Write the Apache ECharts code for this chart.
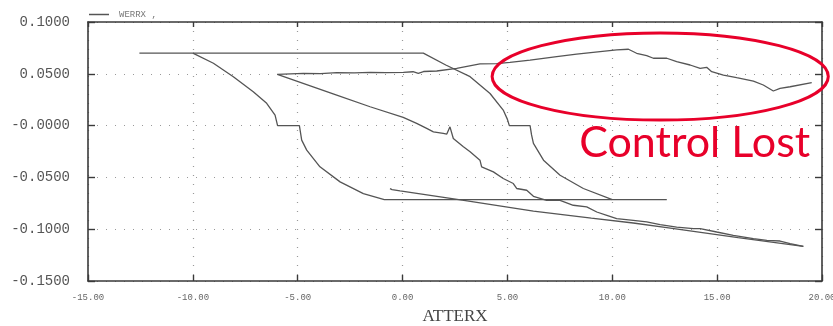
<!DOCTYPE html>
<html>
<head>
<meta charset="utf-8">
<script src="https://cdn.jsdelivr.net/npm/echarts@6/dist/echarts.min.js"></script>
<style>
  html, body { margin: 0; padding: 0; background: #fff; }
  #chart { width: 833px; height: 326px; }
</style>
</head>
<body>
<div id="chart"></div>
<script>
// Axis ticks
const xTickLabels = ['-15.00', '-10.00', '-5.00', '0.00', '5.00', '10.00', '15.00', '20.00'];
const yTickLabels = ['-0.1500', '-0.1000', '-0.0500', '-0.0000', '0.0500', '0.1000'];

// Switching lines (ATTERX, WERRX)
const upperSwitch = [[-12.55, 0.070], [0.99, 0.070], [2.06, 0.0585], [3.22, 0.0472], [4.17, 0.031],
  [4.8, 0.015], [5.0, 0.006], [5.09, 0.0], [6.08, 0.0], [6.15, -0.009], [6.24, -0.0172], [6.72, -0.0334],
  [7.51, -0.0479], [8.62, -0.0607], [10.0, -0.0714]];
const lowerSwitch = [[-10.0, 0.070], [-9.02, 0.0602], [-8.07, 0.0472], [-7.12, 0.0327], [-6.48, 0.0215],
  [-6.08, 0.0102], [-5.96, 0.0], [-4.92, 0.0], [-4.81, -0.014], [-4.57, -0.0237], [-3.94, -0.0398],
  [-2.98, -0.0543], [-1.87, -0.0656], [-0.87, -0.0714], [12.6, -0.0714]];

// Trajectory legs
const driftLeg = [[-0.6, -0.0608], [-0.5, -0.0618], [-0.12, -0.063], [3.0, -0.0725], [6.24, -0.0825],
  [9.0, -0.0893], [11.0, -0.094], [12.6, -0.0985], [16.0, -0.1082], [19.11, -0.1165]];
const returnLeg = [[-5.97, 0.0495], [-3.14, 0.0295], [-1.55, 0.0182], [0.03, 0.0079], [0.67, 0.0021],
  [1.15, -0.0027], [1.47, -0.006], [1.94, -0.0075], [2.11, -0.0082], [2.26, -0.0012], [2.42, -0.0124],
  [2.9, -0.0205], [3.22, -0.0253], [3.69, -0.0334], [3.77, -0.0398], [4.33, -0.0447], [4.8, -0.0511],
  [5.28, -0.0559], [5.44, -0.0607], [5.92, -0.0624], [6.24, -0.0682], [6.87, -0.0721], [7.51, -0.0721],
  [8.14, -0.0769], [8.78, -0.0785], [9.26, -0.0834], [9.74, -0.0866], [10.21, -0.0898], [11.0, -0.0914],
  [11.64, -0.093], [12.28, -0.0956], [13.07, -0.0979], [13.87, -0.0994], [14.19, -0.0994],
  [14.98, -0.1027], [15.77, -0.1059], [16.73, -0.1091], [17.37, -0.1107], [18.0, -0.1114],
  [18.48, -0.1139], [19.11, -0.1165]];
const lostLeg = [[-5.97, 0.0495], [-4.73, 0.0505], [-3.9, 0.0502], [-3.14, 0.0511], [-2.3, 0.0508],
  [-1.55, 0.0514], [-0.8, 0.0511], [0.04, 0.0514], [0.5, 0.052], [0.75, 0.0505], [1.0, 0.0522],
  [1.63, 0.0527], [2.58, 0.0553], [3.69, 0.0595], [4.49, 0.0598], [5.12, 0.0611], [6.08, 0.0633],
  [7.35, 0.0665], [8.3, 0.0689], [9.42, 0.0714], [10.21, 0.073], [10.77, 0.0737], [11.16, 0.0698],
  [11.64, 0.0675], [11.96, 0.065], [12.6, 0.065], [13.07, 0.0617], [13.71, 0.0585], [14.19, 0.0553],
  [14.5, 0.0563], [14.74, 0.052], [15.3, 0.0488], [15.93, 0.0462], [16.73, 0.043], [17.2, 0.0392],
  [17.68, 0.0334], [18.0, 0.036], [18.48, 0.0375], [19.51, 0.0414]];

const seriesName = 'WERRX ,';
const lineColor = '#555';
const red = '#e8002a';

const chart = echarts.init(document.getElementById('chart'), null, { renderer: 'canvas' });

const xMin = -15, xMax = 20, xStep = 5;
const yMin = -0.15, yMax = 0.1, yStep = 0.05;

const frame = { show: true, onZero: false, lineStyle: { color: '#3a3a3a', width: 1.6 } };
const dotted = { show: true, lineStyle: { color: '#999', type: [1, 8], width: 1.2 } };
const tick = len => ({ show: true, inside: true, length: len, lineStyle: { color: '#3a3a3a', width: 1.4 } });

function mkLine(data) {
  return {
    name: seriesName, type: 'line', data: data, showSymbol: false, symbol: 'none',
    lineStyle: { color: lineColor, width: 1.3 }, itemStyle: { color: lineColor },
    silent: true, animation: false
  };
}

chart.setOption({
  animation: false,
  grid: { left: 88, right: 11, top: 22, bottom: 45, containLabel: false, outerBoundsMode: 'none' },
  legend: {
    data: [seriesName], left: 84, top: 5,
    icon: 'rect', itemWidth: 20, itemHeight: 1.5,
    textStyle: { fontFamily: 'Liberation Mono', fontSize: 9, color: '#777', padding: [0, 0, 0, 5] }
  },
  xAxis: [{
    type: 'value', min: xMin, max: xMax, interval: xStep, position: 'bottom',
    axisLine: frame, axisTick: tick(6),
    axisLabel: {
      margin: 12, fontFamily: 'Liberation Mono', fontSize: 9, color: '#666',
      formatter: v => xTickLabels[Math.round((v - xMin) / xStep)]
    },
    splitLine: dotted,
    name: 'ATTERX', nameLocation: 'middle', nameGap: 27,
    nameTextStyle: { fontFamily: 'Liberation Serif', fontSize: 17, color: '#444' }
  }, {
    type: 'value', min: xMin, max: xMax, interval: xStep, position: 'top',
    axisLine: frame, axisTick: tick(5),
    axisLabel: { show: false }, splitLine: { show: false }
  }],
  yAxis: [{
    type: 'value', min: yMin, max: yMax, interval: yStep, position: 'left',
    axisLine: frame, axisTick: tick(7),
    axisLabel: {
      margin: 18, fontFamily: 'Liberation Mono', fontSize: 14, color: '#555',
      formatter: v => yTickLabels[Math.round((v - yMin) / yStep)]
    },
    splitLine: dotted
  }, {
    type: 'value', min: yMin, max: yMax, interval: yStep, position: 'right',
    axisLine: frame, axisTick: tick(7),
    axisLabel: { show: false }, splitLine: { show: false }
  }],
  series: [mkLine(upperSwitch), mkLine(lowerSwitch), mkLine(driftLeg), mkLine(returnLeg), mkLine(lostLeg)]
});

// Red "Control Lost" annotation around the upper right excursion
const ellipseBox = { x0: 4.27, x1: 20.3, y0: 0.0053, y1: 0.0895 };
const p0 = chart.convertToPixel({ gridIndex: 0 }, [ellipseBox.x0, ellipseBox.y1]);
const p1 = chart.convertToPixel({ gridIndex: 0 }, [ellipseBox.x1, ellipseBox.y0]);
const textAnchor = chart.convertToPixel({ gridIndex: 0 }, [8.42, -0.0165]);

chart.setOption({
  graphic: [{
    type: 'ellipse', silent: true, z: 100,
    shape: { cx: (p0[0] + p1[0]) / 2, cy: (p0[1] + p1[1]) / 2, rx: (p1[0] - p0[0]) / 2, ry: (p1[1] - p0[1]) / 2 },
    style: { fill: null, stroke: red, lineWidth: 3 }
  }, {
    type: 'text', silent: true, z: 100, x: textAnchor[0], y: textAnchor[1],
    style: { text: 'Control Lost', fill: red, font: '43px Lato', verticalAlign: 'middle' }
  }]
});
</script>
</body>
</html>
